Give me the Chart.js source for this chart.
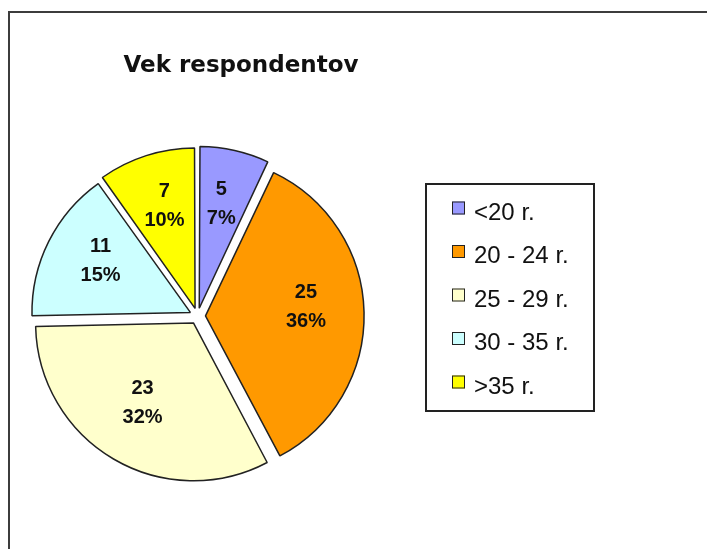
<!DOCTYPE html>
<html>
<head>
<meta charset="utf-8">
<title>Vek respondentov</title>
<script src="https://cdn.jsdelivr.net/npm/chart.js@4.4.0/dist/chart.umd.min.js"></script>
<style>
  html, body { margin: 0; padding: 0; background: #fff; }
  #wrap { width: 707px; height: 549px; }
</style>
</head>
<body>
<div id="wrap"><canvas id="kolac" width="707" height="549"></canvas></div>
<script>
const chartTitle = 'Vek respondentov';
const labels = ['<20 r.', '20 - 24 r.', '25 - 29 r.', '30 - 35 r.', '>35 r.'];
const counts = [5, 25, 23, 11, 7];
const percentLabels = ['7%', '36%', '32%', '15%', '10%'];
const colors = ['#9999ff', '#ff9900', '#ffffcc', '#ccffff', '#ffff00'];

// frame, title, slice labels and the boxed legend
const excelLook = {
  id: 'excelLook',
  beforeDraw(chart) {
    const ctx = chart.ctx;
    ctx.save();
    ctx.fillStyle = '#fff';
    ctx.fillRect(0, 0, chart.width, chart.height);
    ctx.strokeStyle = '#3c3c3c';
    ctx.lineWidth = 2;
    ctx.strokeRect(9, 12, chart.width + 20, chart.height + 20);

    ctx.fillStyle = '#111';
    ctx.font = 'bold 23px "DejaVu Sans"';
    ctx.textAlign = 'center';
    ctx.textBaseline = 'alphabetic';
    ctx.fillText(chartTitle, 241, 72);
    ctx.restore();
  },
  afterDatasetsDraw(chart) {
    const ctx = chart.ctx;
    const meta = chart.getDatasetMeta(0);
    ctx.save();

    // value + percent inside each slice
    ctx.fillStyle = '#111';
    ctx.font = 'bold 20px "Liberation Sans"';
    ctx.textAlign = 'center';
    ctx.textBaseline = 'middle';
    meta.data.forEach((arc, i) => {
      const p = arc.getProps(['x', 'y', 'startAngle', 'endAngle', 'outerRadius']);
      const mid = (p.startAngle + p.endAngle) / 2;
      const d = (arc.options.offset || 0) / 4 + p.outerRadius * 0.64;
      const px = p.x + Math.cos(mid) * d;
      const py = p.y + Math.sin(mid) * d;
      ctx.fillText(String(counts[i]), px, py - 21);
      ctx.fillText(percentLabels[i], px, py + 8);
    });

    // legend box
    ctx.strokeStyle = '#222';
    ctx.lineWidth = 2;
    ctx.strokeRect(426, 184, 168, 227);
    ctx.font = '24px "Liberation Sans"';
    ctx.textAlign = 'left';
    ctx.textBaseline = 'alphabetic';
    labels.forEach((lab, i) => {
      const base = 219.5 + i * 43.5;
      ctx.fillStyle = colors[i];
      ctx.fillRect(452, base - 18, 13, 13);
      ctx.strokeStyle = '#222';
      ctx.lineWidth = 1;
      ctx.strokeRect(452.5, base - 17.5, 12, 12);
      ctx.fillStyle = '#111';
      ctx.fillText(lab, 474, base);
    });
    ctx.restore();
  }
};

const kolac = new Chart(document.getElementById('kolac'), {
  type: 'pie',
  data: {
    labels: labels,
    datasets: [{
      data: counts,
      backgroundColor: colors,
      borderColor: '#222',
      borderWidth: 1.5,
      offset: 32,
      hoverOffset: 32
    }]
  },
  options: {
    responsive: false,
    animation: false,
    radius: 157,
    layout: {
      padding: { left: 20, right: 332, top: 112, bottom: 29 }
    },
    plugins: {
      legend: { display: false },
      title: { display: false },
      tooltip: { enabled: false }
    }
  },
  plugins: [excelLook]
});
</script>
</body>
</html>
